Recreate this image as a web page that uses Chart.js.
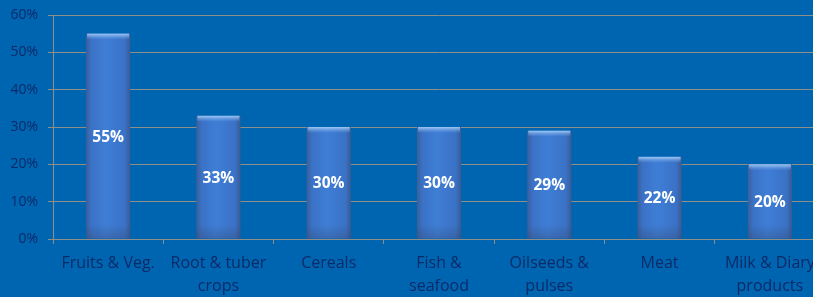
<!DOCTYPE html>
<html><head><meta charset="utf-8">
<script src="https://cdn.jsdelivr.net/npm/chart.js@4"></script>
<style>
html,body{margin:0;padding:0;background:#0065B0;overflow:hidden;width:813px;height:297px;}
#wrap{position:relative;width:830px;height:297px;}
</style></head><body>
<div id="wrap"><canvas id="c" width="830" height="297"></canvas></div>
<script>
const categories = [["Fruits & Veg."],["Root & tuber","crops"],["Cereals"],["Fish &","seafood"],["Oilseeds &","pulses"],["Meat"],["Milk & Diary","products"]];
const values = [55, 33, 30, 30, 29, 22, 20];
const yTicks = [0, 10, 20, 30, 40, 50, 60];

const textColor = '#0C2A68';
const gridColor = '#8F8F88';

function barFill(ctx){
  const chart = ctx.chart;
  const xs = chart.scales && chart.scales.x;
  if(!xs || !chart.chartArea) return '#3A78CE';
  const x = xs.getPixelForValue(ctx.dataIndex);
  const w = (xs.width / categories.length) * 0.4;
  if(!isFinite(x) || !isFinite(w) || w <= 0) return '#3A78CE';
  const g = chart.ctx.createLinearGradient(x - w/2, 0, x + w/2, 0);
  g.addColorStop(0, '#3B5F9A');
  g.addColorStop(0.12, '#3A72C6');
  g.addColorStop(0.45, '#3F7ED6');
  g.addColorStop(0.88, '#3A72C6');
  g.addColorStop(1, '#3B5A92');
  return g;
}

const labelPlugin = {
  id: 'labels',
  afterDatasetsDraw(chart){
    const c = chart.ctx;
    const meta = chart.getDatasetMeta(0);
    c.save();
    meta.data.forEach((bar, i) => {
      const w = bar.width;
      const cap = c.createLinearGradient(0, bar.y, 0, bar.y + 6);
      cap.addColorStop(0, 'rgba(170,210,250,0.9)');
      cap.addColorStop(1, 'rgba(120,170,235,0)');
      c.fillStyle = cap;
      c.fillRect(bar.x - w/2 + 1, bar.y, w - 2, 6);
      const bs = c.createLinearGradient(0, bar.base - 14, 0, bar.base);
      bs.addColorStop(0, 'rgba(50,70,110,0)');
      bs.addColorStop(1, 'rgba(50,70,110,0.35)');
      c.fillStyle = bs;
      c.fillRect(bar.x - w/2, bar.base - 14, w, 14);
      c.fillStyle = '#FFFFFF';
      c.font = 'bold 15.5px "Open Sans", "Liberation Sans", sans-serif';
      c.textAlign = 'center';
      c.textBaseline = 'middle';
      c.fillText(values[i] + '%', bar.x, (bar.y + bar.base)/2 + 1);
    });
    c.restore();
  }
};

new Chart(document.getElementById('c'), {
  type: 'bar',
  data: {
    labels: categories,
    datasets: [{
      data: values,
      backgroundColor: barFill,
      borderWidth: 0,
      categoryPercentage: 1.0,
      barPercentage: 0.4
    }]
  },
  options: {
    responsive: false,
    animation: false,
    layout: { padding: { top: 15, right: 5, left: 0, bottom: 0 } },
    plugins: { legend: { display: false }, tooltip: { enabled: false } },
    scales: {
      x: {
        afterFit(s){ s.height = 58; s.paddingLeft = 0; s.paddingRight = 0; },
        grid: { drawOnChartArea: false, drawTicks: true, tickLength: 5, color: gridColor, offset: true },
        border: { display: true, color: gridColor, width: 1 },
        ticks: { color: textColor, font: { family: '"Open Sans", "Liberation Sans", sans-serif', size: 16, lineHeight: 1.45 }, padding: 8, maxRotation: 0, autoSkip: false }
      },
      y: {
        min: 0, max: 60,
        afterFit(s){ s.width = 53; s.paddingTop = 0; s.paddingBottom = 0; },
        afterBuildTicks(s){ s.ticks = yTicks.map(v => ({ value: v })); },
        grid: { color: gridColor, lineWidth: 1, drawTicks: true, tickLength: 5 },
        border: { display: true, color: gridColor, width: 1 },
        ticks: { color: textColor, font: { family: '"Open Sans", "Liberation Sans", sans-serif', size: 14 }, padding: 10, callback: v => v + '%' }
      }
    }
  },
  plugins: [labelPlugin]
});
</script>
</body></html>
